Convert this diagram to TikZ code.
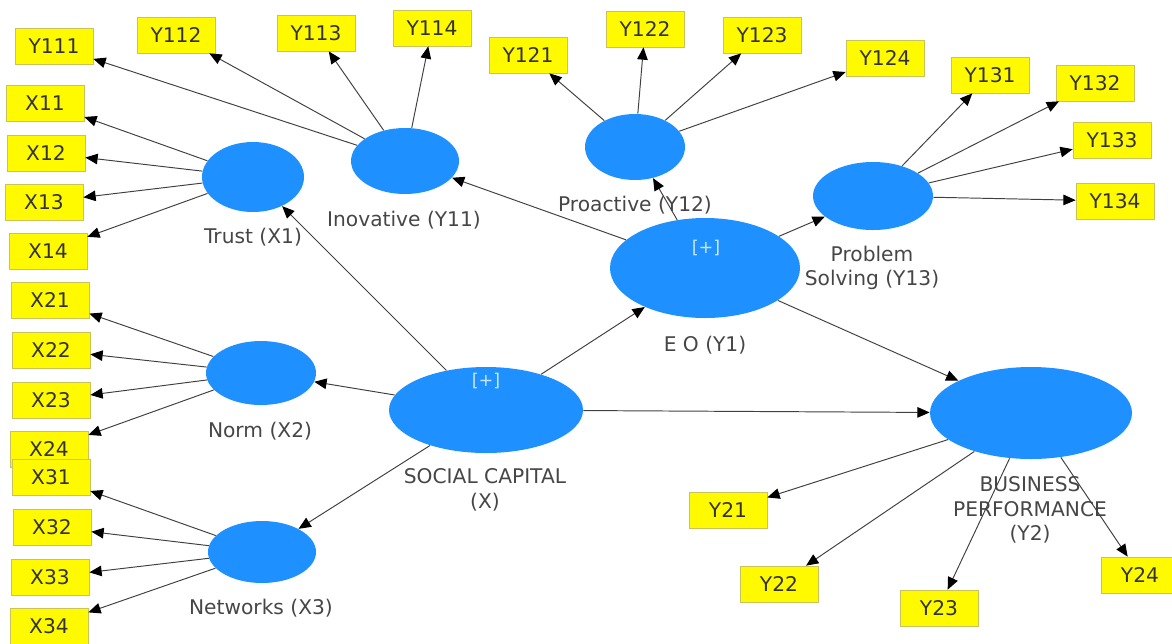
\documentclass[tikz,border=0pt]{standalone}
\usepackage{fontspec}
\setmainfont{DejaVu Sans}
\usetikzlibrary{arrows.meta,shapes.geometric}
\definecolor{latent}{RGB}{30,144,255}
\definecolor{indfill}{RGB}{255,250,0}
\definecolor{indline}{RGB}{200,195,90}
\definecolor{lblgray}{RGB}{70,70,70}
\definecolor{plusblue}{RGB}{200,230,255}

\begin{document}
\begin{tikzpicture}[x=0.02cm,y=-0.02cm,font=\fontsize{11.5}{14}\selectfont,
  lv/.style 2 args={ellipse,fill=latent,inner sep=0pt,
    minimum width=#1*0.02cm,minimum height=#2*0.02cm},
  ind/.style={draw=indline,fill=indfill,inner sep=0pt,
    minimum width=1.56cm,minimum height=0.72cm,text=black!80},
  lbl/.style={text=lblgray,align=center},
  plus/.style={text=plusblue,font=\fontsize{10}{12}\selectfont},
  arr/.style={draw=black!75,line width=0.55pt,
    -{Triangle[length=7pt,width=6pt,color=black]}}]
\useasboundingbox (0,0) rectangle (1172,643);
% latent variables
\node[lv={102}{70}]  (trust) at (253,177) {};
\node[lv={108}{66}]  (inov)  at (405,161) {};
\node[lv={100}{66}]  (proa)  at (635,147) {};
\node[lv={120}{68}]  (prob)  at (873,196) {};
\node[lv={190}{100}] (eo)    at (705,268) {};
\node[lv={110}{64}]  (norm)  at (261,373) {};
\node[lv={108}{62}]  (netw)  at (262,552) {};
\node[lv={194}{86}]  (sc)    at (486,410) {};
\node[lv={202}{92}]  (bp)    at (1031,413) {};
% labels
\node[lbl] (trustlbl) at (253,237) {Trust (X1)};
\node[lbl] (inovlbl)  at (404,220) {Inovative (Y11)};
\node[lbl] (proalbl)  at (635,205) {Proactive (Y12)};
\node[lbl] (problbl)  at (872,268) {Problem\\Solving (Y13)};
\node[lbl] (eolbl)    at (705,345) {E O (Y1)};
\node[lbl] (normlbl)  at (260,431) {Norm (X2)};
\node[lbl] (netwlbl)  at (261,608) {Networks (X3)};
\node[lbl] (sclbl)    at (485,490) {SOCIAL CAPITAL\\(X)};
\node[lbl] (bplbl)    at (1030,510) {BUSINESS\\PERFORMANCE\\(Y2)};
\node[plus] (eoplus) at (706,248) {[+]};
\node[plus] (scplus) at (486,381) {[+]};
% indicators
\foreach \n/\t/\x/\y in {y111/Y111/54/46,y112/Y112/176/35,y113/Y113/316/33,y114/Y114/432/28,
  y121/Y121/528/55,y122/Y122/645/29,y123/Y123/762/35,y124/Y124/885/58,
  y131/Y131/990/75,y132/Y132/1095/83,y133/Y133/1112/140,y134/Y134/1115/201,
  x11/X11/45/103,x12/X12/46/153,x13/X13/44/202,x14/X14/48/251,
  x21/X21/50/300,x22/X22/51/350,x23/X23/51/400,x24/X24/49/449,
  x31/X31/51/477,x32/X32/52/527,x33/X33/50/577,x34/X34/49/626,
  y21/Y21/728/510,y22/Y22/779/584,y23/Y23/939/608,y24/Y24/1140/575}
  \node[ind] (\n) at (\x,\y) {\t};
% outer loadings
\foreach \l/\i in {trust/x1,norm/x2,netw/x3,inov/y11,proa/y12,prob/y13}
  \foreach \k in {1,...,4}
    \draw[arr] (\l) -- (\i\k);
\foreach \k in {1,...,4}
  \draw[arr] (bp) -- (y2\k);
% structural paths
\foreach \t in {trust,norm,netw,eo,bp}
  \draw[arr] (sc) -- (\t);
\foreach \t in {inov,proa,prob,bp}
  \draw[arr] (eo) -- (\t);
\end{tikzpicture}
\end{document}
